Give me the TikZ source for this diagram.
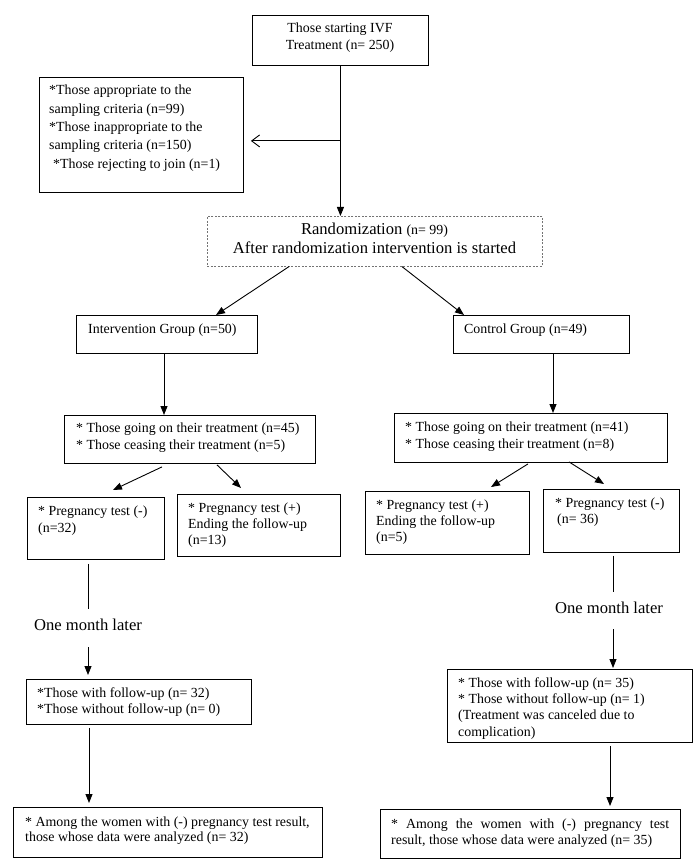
\documentclass[tikz,border=0pt]{standalone}
\usepackage{fontspec}
\setmainfont{Liberation Serif}
\usetikzlibrary{arrows.meta,calc}
\newcommand{\smallfnt}{\fontsize{13.9}{17}\selectfont}
\newcommand{\bigfnt}{\fontsize{16.6}{19}\selectfont}
\newcommand{\blockl}[1]{\begin{tabular}[t]{@{}l@{}}#1\end{tabular}}
\newcommand{\blockc}[1]{\begin{tabular}[t]{@{}c@{}}#1\end{tabular}}
\begin{document}
\begin{tikzpicture}[x=1pt,y=-1pt,
  box/.style={draw, line width=0.9pt, inner sep=0pt, anchor=north west},
  dbox/.style={draw=black!55, line width=0.6pt, dash pattern=on 2pt off 1.5pt, inner sep=0pt, anchor=north west},
  txt/.style={inner sep=0pt, anchor=base west, font=\smallfnt},
  big/.style={inner sep=0pt, anchor=base, font=\bigfnt},
  ln/.style={line width=0.9pt},
  arr/.style={line width=0.9pt, -{Triangle[length=9pt,width=7pt]}},
  openarr/.style={line width=0.9pt, -{Straight Barb[length=8pt,width=12pt,line width=0.9pt]}}]
\useasboundingbox (0,0) rectangle (693,866);

% boxes
\node[box, minimum width=176pt, minimum height=50pt] (top) at (252,15) {};
\node[box, minimum width=204pt, minimum height=115pt] (excl) at (39,77) {};
\node[dbox, minimum width=335pt, minimum height=50pt] (rand) at (207,216) {};
\node[box, minimum width=181pt, minimum height=38pt] (ig) at (76,315) {};
\node[box, minimum width=176pt, minimum height=38pt] (cg) at (453,315) {};
\node[box, minimum width=251pt, minimum height=48pt] (lt) at (64,415) {};
\node[box, minimum width=273pt, minimum height=49pt] (rt) at (394,413) {};
\node[box, minimum width=137pt, minimum height=62pt] (pl1) at (27,497) {};
\node[box, minimum width=163pt, minimum height=62pt] (pl2) at (177,494) {};
\node[box, minimum width=164pt, minimum height=63pt] (pr1) at (365,491) {};
\node[box, minimum width=136pt, minimum height=63pt] (pr2) at (543,489) {};
\node[box, minimum width=225pt, minimum height=45pt] (fl) at (26,679) {};
\node[box, minimum width=309pt, minimum height=50pt] (al) at (13,807) {};
\node[box, minimum width=245pt, minimum height=73pt] (fr) at (447,669) {};
\node[box, minimum width=300pt, minimum height=49pt] (ar) at (380,809) {};

% texts
\node[txt, anchor=base] (toptxt) at (340,33) {\blockc{Those starting IVF\\Treatment (n= 250)}};
\node[txt, font=\fontsize{13.9}{18.3}\selectfont] (excltxt) at (49,95) {\blockl{*Those appropriate to the\\{}sampling criteria (n=99)\\{}*Those inappropriate to the\\{}sampling criteria (n=150)\\{}\hspace*{4pt}*Those rejecting to join (n=1)}};
\node[big] (randtxt) at (374.5,235) {\blockc{Randomization {\smallfnt (n= 99)}\\After randomization intervention is started}};
\node[txt] (igtxt) at (88,333) {Intervention Group (n=50)};
\node[txt] (cgtxt) at (464,333) {Control Group (n=49)};
\node[txt] (lttxt) at (76,432) {\blockl{* Those going on their treatment (n=45)\\{}* Those ceasing their treatment (n=5)}};
\node[txt] (rttxt) at (405,431) {\blockl{* Those going on their treatment (n=41)\\{}* Those ceasing their treatment (n=8)}};
\node[txt] (pl1txt) at (38,515) {\blockl{* Pregnancy test (-)\\{}(n=32)}};
\node[txt, font=\fontsize{13.9}{16}\selectfont] (pl2txt) at (188,512) {\blockl{* Pregnancy test (+)\\{}Ending the follow-up\\{}(n=13)}};
\node[txt, font=\fontsize{13.9}{16}\selectfont] (pr1txt) at (376,509) {\blockl{* Pregnancy test (+)\\{}Ending the follow-up\\{}(n=5)}};
\node[txt, font=\fontsize{13.9}{16}\selectfont] (pr2txt) at (555,507) {\blockl{* Pregnancy test (-)\\{}\hspace*{2pt}(n= 36)}};
\node[big] (oml) at (88,630) {One month later};
\node[big] (omr) at (609,613) {One month later};
\node[txt, font=\fontsize{13.9}{16}\selectfont] (fltxt) at (37,697) {\blockl{*Those with follow-up (n= 32)\\{}*Those without follow-up (n= 0)}};
\node[txt, font=\fontsize{13.9}{16.4}\selectfont] (frtxt) at (458,687) {\blockl{* Those with follow-up (n= 35)\\{}* Those without follow-up (n= 1)\\{}(Treatment was canceled due to\\{}complication)}};
\node[txt, font=\fontsize{13.9}{15.5}\selectfont] (altxt) at (25,826) {\blockl{* Among the women with (-) pregnancy test result,\\{}those whose data were analyzed (n= 32)}};
\node[txt, font=\fontsize{13.9}{16}\selectfont] (artxt) at (391,828) {\blockl{\makebox[278pt][s]{* Among the women with (-) pregnancy test}\\{}result, those whose data were analyzed (n= 35)}};

% connectors
\draw[arr] (top.south) -- (top.south |- rand.north);
\coordinate (br) at ($(top.south)+(0,75)$);
\draw[openarr] (br) -- ($(br -| excl.east)+(7,0)$);
\draw[arr] ($(rand.south west)+(82,0)$) -- ($(ig.north west)+(140,0)$);
\draw[arr] ($(rand.south west)+(195,0)$) -- ($(cg.north west)+(11,0)$);
\draw[arr] ($(ig.south west)+(88,0)$) -- ($(lt.north west)+(100,0)$);
\draw[arr] ($(cg.south west)+(100,0)$) -- ($(rt.north west)+(159,0)$);
\draw[arr] ($(lt.south west)+(98,3)$) -- ($(pl1.north west)+(86,-7)$);
\draw[arr] ($(lt.south west)+(153,1)$) -- ($(pl2.north west)+(64,-6)$);
\draw[arr] ($(rt.south west)+(134,1)$) -- ($(pr1.north west)+(126,-4)$);
\draw[arr] ($(rt.south west)+(175,-1)$) -- ($(pr2.north west)+(61,-5)$);
\draw[ln] ($(pl1.south west)+(61,4)$) -- ($(oml.base)+(0,-21)$);
\draw[arr] ($(oml.base)+(0,17)$) -- ($(fl.north west)+(62,-4)$);
\draw[arr] ($(fl.south west)+(63,3)$) -- ($(al.north west)+(76,-4)$);
\draw[ln] ($(pr2.south west)+(70,3)$) -- ($(omr.base)+(4,-21)$);
\draw[arr] ($(omr.base)+(4,16)$) -- ($(fr.north west)+(166,-1)$);
\draw[arr] ($(fr.south west)+(163,3)$) -- ($(ar.north west)+(230,-3)$);
\end{tikzpicture}
\end{document}
